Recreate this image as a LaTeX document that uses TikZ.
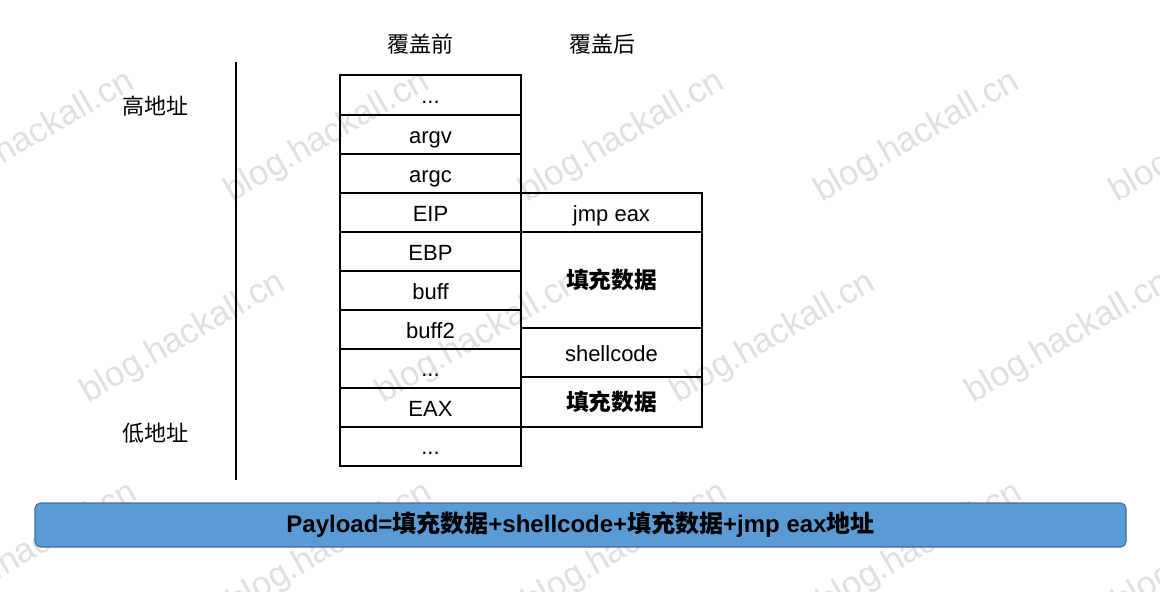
\documentclass[tikz,border=0pt]{standalone}
\usepackage{fontspec}
\setmainfont{Liberation Sans}
\newfontfamily\cjk{Noto Sans CJK SC}
\usetikzlibrary{positioning}
\definecolor{barblue}{RGB}{91,155,213}
\definecolor{barline}{RGB}{62,110,155}

\begin{document}
\begin{tikzpicture}[x=0.75pt,y=0.75pt,yscale=-1,xscale=1,
  cell/.style={draw, line width=1.5pt, inner sep=0pt, outer sep=0pt,
    minimum width=135.75pt, minimum height=29.25pt,
    text height=18pt, text depth=4pt,
    font=\fontsize{16.5}{19}\selectfont},
  dotcell/.style={cell, text height=16.5pt, text depth=3.8pt},
  fillcell/.style={cell, text height=17pt, text depth=3pt,
    font=\fontsize{17}{20}\selectfont\cjk\bfseries},
  side/.style={font=\fontsize{16.5}{19}\selectfont\cjk},
  wmark/.style={text=black!12, rotate=30, inner sep=0pt,
    font=\fontsize{26}{29}\selectfont}]
\useasboundingbox (0,0) rectangle (1160,592);

% watermark
\foreach \x/\y [count=\i] in {32/137, 327/137, 622/137, 917/137, 1212/137,
    183/338, 478/338, 773/338, 1068/338,
    35/548, 330/548, 625/548, 920/548, 1215/548}
  \node[wmark] (wm\i) at (\x,\y) {blog.hackall.cn};

% axis
\coordinate (axtop) at (236,62);
\coordinate (axbot) at (236,480);
\draw[line width=1.5pt] (axtop) -- (axbot);
\node[side] (high) at (155,106) {高地址};
\node[side] (low) at (155,433) {低地址};

% headers
\node[side] (before) at (420,44) {覆盖前};
\node[side] (after) at (602,44) {覆盖后};

% stack before
\node[dotcell] (s1) at (430.5,95) {...};
\node[cell, below=0pt of s1] (argv) {argv};
\node[cell, below=0pt of argv] (argc) {argc};
\node[cell, below=0pt of argc] (eip) {EIP};
\node[cell, below=0pt of eip] (ebp) {EBP};
\node[cell, below=0pt of ebp] (buff) {buff};
\node[cell, below=0pt of buff] (buff2) {buff2};
\node[dotcell, below=0pt of buff2] (s2) {...};
\node[cell, below=0pt of s2] (eax) {EAX};
\node[dotcell, below=0pt of eax] (s3) {...};

% stack after
\node[cell, right=0pt of eip] (jmp) {jmp eax};
\node[fillcell, minimum height=72pt, below=0pt of jmp] (fill1) {填充数据};
\node[cell, minimum height=36.75pt, below=0pt of fill1] (shell) {shellcode};
\node[fillcell, minimum height=37.5pt, below=0pt of shell] (fill2) {填充数据};

% payload
\node[draw=barline, fill=barblue, line width=0.8pt, rounded corners=4pt,
  minimum width=818.25pt, minimum height=33pt, inner sep=0pt,
  font=\fontsize{18}{21}\selectfont\bfseries] (payload) at (580.5,525)
  {Payload={\cjk 填充数据}+shellcode+{\cjk 填充数据}+jmp eax{\cjk 地址}};
\end{tikzpicture}
\end{document}
